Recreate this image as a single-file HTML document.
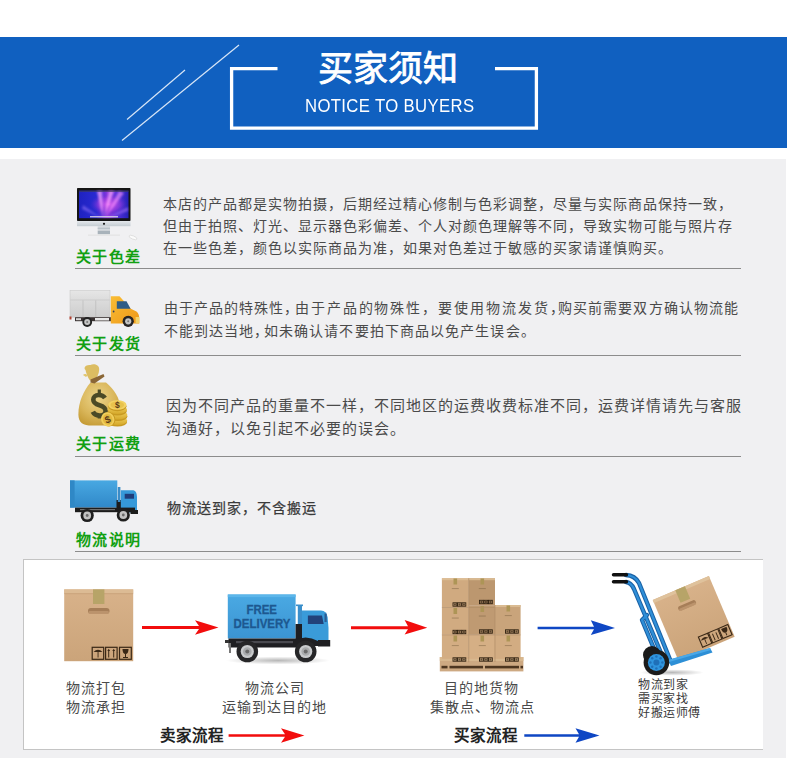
<!DOCTYPE html>
<html lang="zh-CN"><head><meta charset="utf-8">
<style>
*{margin:0;padding:0;box-sizing:border-box}
html,body{width:790px;height:760px;background:#fff;overflow:hidden;font-family:"Liberation Sans",sans-serif}
.a{position:absolute}
#band{left:0;top:37px;width:787px;height:111px;background:#1060c0}
#gray{left:0;top:159px;width:786px;height:599px;background:#f0f0f2}
.t{position:absolute;white-space:nowrap;font-size:14px;letter-spacing:1px;line-height:22px;color:#4a4a4a}
.g{position:absolute;white-space:nowrap;font-size:15px;letter-spacing:1.3px;line-height:20px;color:#12a012;font-weight:bold}
.hr{position:absolute;left:75px;width:666px;height:1px;background:#8c8c8c}
#box{left:23px;top:559px;width:740px;height:191px;background:#fff;border:1px solid #c4c4c4;border-right:none}
.s{position:absolute;white-space:nowrap;font-size:14px;letter-spacing:1px;line-height:20px;color:#4a4a4a}
.sb{position:absolute;white-space:nowrap;font-size:15.5px;line-height:18px;color:#222;font-family:"Liberation Serif",serif;font-weight:bold}
</style></head><body>
<div class="a" id="band"></div>
<svg class="a" style="left:0;top:0" width="790" height="160">
  <line x1="127" y1="119.5" x2="185" y2="70" stroke="#d8e6f7" stroke-width="1.2"/>
  <line x1="122" y1="140.5" x2="239" y2="45" stroke="#d8e6f7" stroke-width="1.2"/>
  <path d="M277.5 68.6 H231.6 V128.2 H536.4 V68.6 H495" fill="none" stroke="#fff" stroke-width="3.3"/>
</svg>
<div class="a" style="left:317.5px;top:47px;font-size:35px;line-height:44px;color:#fff;font-weight:normal;-webkit-text-stroke:0.8px #fff;letter-spacing:0.3px;white-space:nowrap">买家须知</div>
<div class="a" style="left:305px;top:95px;font-size:19px;line-height:22px;color:#fff;white-space:nowrap;letter-spacing:0.4px;transform:scaleX(0.88);transform-origin:0 0">NOTICE TO BUYERS</div>

<div class="a" id="gray"></div>

<!-- row 1 -->
<div class="t" style="left:163px;top:193px">本店的产品都是实物拍摄，后期经过精心修制与色彩调整，尽量与实际商品保持一致，</div>
<div class="t" style="left:163px;top:215px">但由于拍照、灯光、显示器色彩偏差、个人对颜色理解等不同，导致实物可能与照片存</div>
<div class="t" style="left:163px;top:237px">在一些色差，颜色以实际商品为准，如果对色差过于敏感的买家请谨慎购买。</div>
<div class="g" style="left:76px;top:247px">关于色差</div>
<div class="hr" style="top:268px"></div>

<!-- row 2 -->
<div class="t" style="left:163.5px;top:297px">由于产品的特殊性，</div>
<div class="t" style="left:295px;top:297px;letter-spacing:1.9px">由于产品的物殊性，</div>
<div class="t" style="left:437.5px;top:297px;letter-spacing:2px">要使用物流发货，</div>
<div class="t" style="left:558px;top:297px;letter-spacing:1.1px">购买前需要双方确认物流能</div>
<div class="t" style="left:164px;top:320px">不能到达当地，</div>
<div class="t" style="left:264px;top:320px;letter-spacing:1.1px">如未确认请不要拍下商品以免产生误会。</div>
<div class="g" style="left:76px;top:334px">关于发货</div>
<div class="hr" style="top:355px"></div>

<!-- row 3 -->
<div class="t" style="left:166px;top:395px;font-size:15px">因为不同产品的重量不一样，不同地区的运费收费标准不同，运费详情请先与客服</div>
<div class="t" style="left:166px;top:418px;font-size:15px">沟通好，以免引起不必要的误会。</div>
<div class="g" style="left:76px;top:434px">关于运费</div>
<div class="hr" style="top:456px"></div>

<!-- row 4 -->
<div class="t" style="left:167px;top:497px;color:#3a3a3a;-webkit-text-stroke:0.25px #3a3a3a">物流送到家，不含搬运</div>
<div class="g" style="left:76px;top:530px">物流说明</div>
<div class="hr" style="top:551px"></div>

<svg class="a" style="left:0;top:0" width="790" height="760">
<defs>
  <linearGradient id="scrh" x1="0" y1="0" x2="1" y2="0">
    <stop offset="0" stop-color="#1e22c0"/><stop offset="0.35" stop-color="#2a2ad2"/><stop offset="0.58" stop-color="#8a36dc"/><stop offset="0.8" stop-color="#5030d6"/><stop offset="1" stop-color="#2420b8"/>
  </linearGradient>
  <radialGradient id="scr" cx="0.6" cy="0.5" r="0.38">
    <stop offset="0" stop-color="#e060f0" stop-opacity="0.9"/>
    <stop offset="0.6" stop-color="#b040e0" stop-opacity="0.5"/>
    <stop offset="1" stop-color="#6030d0" stop-opacity="0"/>
  </radialGradient>
  <filter id="bl1" x="-20%" y="-20%" width="140%" height="140%"><feGaussianBlur stdDeviation="0.9"/></filter>
  <linearGradient id="chin" x1="0" y1="0" x2="0" y2="1">
    <stop offset="0" stop-color="#e4e8ec"/><stop offset="1" stop-color="#c4ccd2"/>
  </linearGradient>
  <linearGradient id="cont" x1="0" y1="0" x2="0" y2="1">
    <stop offset="0" stop-color="#e6e6e6"/><stop offset="0.35" stop-color="#dcdcdc"/><stop offset="1" stop-color="#cdcdcd"/>
  </linearGradient>
  <linearGradient id="orng" x1="0" y1="0" x2="1" y2="1">
    <stop offset="0" stop-color="#f9bd35"/><stop offset="1" stop-color="#ee9818"/>
  </linearGradient>
  <radialGradient id="gold" cx="0.45" cy="0.35" r="0.7">
    <stop offset="0" stop-color="#ecd48a"/><stop offset="0.6" stop-color="#d9b65a"/><stop offset="1" stop-color="#c49a34"/>
  </radialGradient>
  <linearGradient id="coin" x1="0" y1="0" x2="0" y2="1">
    <stop offset="0" stop-color="#f4d564"/><stop offset="1" stop-color="#d5a82a"/>
  </linearGradient>
  <linearGradient id="blu1" x1="0" y1="0" x2="0" y2="1">
    <stop offset="0" stop-color="#48a8e2"/><stop offset="1" stop-color="#3088c8"/>
  </linearGradient>
</defs>

<!-- iMac -->
<g>
  <rect x="77" y="188" width="53.5" height="33" rx="0.8" fill="#151515"/>
  <rect x="79" y="190.6" width="49.5" height="27.6" fill="url(#scrh)"/>
  <rect x="79" y="190.6" width="49.5" height="27.6" fill="url(#scr)"/>
  <g filter="url(#bl1)">
    <path d="M103 218 L97 191 L102 191 Z" fill="#ffa8ff" opacity="0.7"/>
    <path d="M104 218 L109 191 L114 191 Z" fill="#ffa8ff" opacity="0.7"/>
    <path d="M105 218 L119 191 L124 193 Z" fill="#ff98ff" opacity="0.6"/>
    <path d="M101 218 L82 209 L83 205 Z" fill="#a080ff" opacity="0.5"/>
    <path d="M107 218 L128 207 L128 211 Z" fill="#c080ff" opacity="0.5"/>
  </g>
  <rect x="79" y="190.6" width="49.5" height="1.4" fill="#3a3a48" opacity="0.6"/>
  <rect x="90" y="216" width="28" height="1.4" fill="#d8d0e8" opacity="0.85"/>
  <rect x="77" y="221" width="53.5" height="5.2" fill="url(#chin)"/>
  <circle cx="104" cy="223.8" r="1.1" fill="#1a1a1a"/>
  <rect x="97.7" y="226.2" width="12.3" height="4.2" fill="#d2d8dd"/>
  <rect x="97.7" y="227.8" width="12.3" height="1" fill="#b4bcc4"/>
  <rect x="97.7" y="230.6" width="12.3" height="3.6" fill="#a8b2ba"/>
  <rect x="88" y="234.6" width="32" height="1" fill="#e0e0e0"/>
  <ellipse cx="133" cy="237.5" rx="4.2" ry="1.6" transform="rotate(22 133 237.5)" fill="#fbfbfb" stroke="#d4d4d4" stroke-width="0.6"/>
</g>

<!-- orange truck -->
<g>
  <rect x="70" y="290.4" width="40" height="26.8" fill="url(#cont)" stroke="#c4c4c4" stroke-width="0.5"/>
  <rect x="70.3" y="299.6" width="39.4" height="0.8" fill="#c8c8c8"/>
  <rect x="82.6" y="300.4" width="0.8" height="16.6" fill="#bdbdbd"/>
  <rect x="95.4" y="300.4" width="0.8" height="16.6" fill="#bdbdbd"/>
  <rect x="75" y="317.2" width="37" height="4" fill="#3a3232"/>
  <rect x="95" y="318" width="14" height="2.5" fill="#e8e8e8"/>
  <rect x="76" y="318.2" width="5" height="2" fill="#d8d8d8"/>
  <rect x="69.5" y="316.5" width="2" height="3" fill="#b04030"/>
  <circle cx="87.2" cy="322" r="4.9" fill="#232323"/>
  <circle cx="87.2" cy="322" r="3" fill="#c4c4c4"/><circle cx="87.2" cy="322" r="1" fill="#777"/>
  <path d="M110.8 296.3 H119.5 L130.8 308.8 L136.5 311.5 Q139.2 313.5 139.2 318 V323.6 H110.8 Z" fill="url(#orng)"/>
  <path d="M116.8 301.3 H126.5 L130.6 308.7 H116.8 Z" fill="#2f5d86"/>
  <circle cx="113.6" cy="311.5" r="0.9" fill="#33415a"/>
  <circle cx="128.2" cy="321.3" r="5.6" fill="#2a2020"/>
  <circle cx="128.2" cy="321.3" r="5" fill="#262626"/>
  <circle cx="128.2" cy="321.3" r="3.1" fill="#c4c4c4"/><circle cx="128.2" cy="321.3" r="1" fill="#777"/>
  <rect x="135.6" y="317" width="3.8" height="6.2" fill="#f2d36a"/>
</g>

<!-- money bag -->
<g>
  <path d="M90.5 382.5 C84 390 78.2 402 78.4 414.5 C78.6 423 83 425.6 92 425.6 H110 C118.5 425.6 120.8 421 120.6 410 C120.3 398 113.5 388.5 106 382.5 Z" fill="url(#gold)"/>
  <path d="M85.5 370 C83 367.5 86 364.2 90.5 365 C93.5 363.5 99.5 364.5 99.2 369.5 C99 374 97 377.5 95 380 L90 380.5 C88 378 86 373 85.5 370 Z" fill="#dcbd62"/>
  <path d="M83 375 C84 373.5 86.5 373.5 87.5 375.5 L86 377 Z" fill="#e2c66e"/>
  <path d="M90.5 379.5 L103.5 374 L104.5 376.5 L94.5 383.5 L90.5 382.5 Z" fill="#8a6636"/>
  <g fill="none" stroke="#4b4a26" stroke-width="4.6" stroke-linecap="butt">
    <path d="M105 398 C103.5 395.8 101 395 98.8 395 C95.3 395 93.3 397.3 93.3 399.7 C93.3 403.3 97 404.5 99.5 405.2 C103.2 406.3 105.6 407.8 105.6 411 C105.6 414 102.8 415.6 99.5 415.6 C96.5 415.6 94 414.4 92.8 411.8"/>
    <path d="M99.3 389.4 V395 M99.3 415 V418.6" stroke-width="3.2"/>
  </g>
  <g>
    <ellipse cx="117.5" cy="422" rx="9.6" ry="4.6" fill="#c89a22"/>
    <ellipse cx="117.5" cy="420.5" rx="9.6" ry="4.6" fill="url(#coin)"/>
    <ellipse cx="117.8" cy="416.5" rx="9.6" ry="4.6" fill="#c89a22"/>
    <ellipse cx="117.8" cy="415" rx="9.6" ry="4.6" fill="url(#coin)"/>
    <ellipse cx="117.3" cy="411" rx="9.6" ry="4.6" fill="#c89a22"/>
    <ellipse cx="117.3" cy="409.5" rx="9.6" ry="4.6" fill="url(#coin)"/>
    <ellipse cx="117.3" cy="406.2" rx="9.2" ry="5" fill="#c89a22"/>
    <ellipse cx="117.3" cy="405" rx="9.2" ry="4.8" fill="#f2d264"/>
    <ellipse cx="117.3" cy="405" rx="6.8" ry="3.4" fill="#e8c24c"/>
    <text x="117.3" y="408.2" text-anchor="middle" font-family="Liberation Sans" font-weight="bold" font-size="8.5" fill="#5a3a18">$</text>
  </g>
  <g transform="rotate(-20 108 419)">
    <ellipse cx="108.6" cy="419.5" rx="6.6" ry="7.2" fill="#c89a22"/>
    <ellipse cx="107.6" cy="419.2" rx="6.6" ry="7.2" fill="#f0ce5a"/>
    <ellipse cx="107.6" cy="419.2" rx="4.8" ry="5.4" fill="#e2b840"/>
    <text x="107.6" y="423" text-anchor="middle" font-family="Liberation Sans" font-weight="bold" font-size="10" fill="#5a3a18">$</text>
  </g>
</g>

<!-- small blue truck -->
<g>
  <rect x="70" y="480.4" width="47.3" height="27.2" fill="url(#blu1)"/>
  <rect x="70" y="480.4" width="4.6" height="27.2" fill="#2f88c6"/>
  <rect x="116.5" y="500" width="5" height="9" fill="#1c1c1c"/>
  <rect x="117.8" y="487" width="2.6" height="15" fill="#3a8cc8"/>
  <path d="M120.8 490.3 H133.5 Q136.8 491 137 497 V512.5 H120.8 Z" fill="#3699d9"/>
  <rect x="124.7" y="493.8" width="9.3" height="4.9" fill="#1f3d7a"/>
  <rect x="75" y="507.6" width="60" height="4.6" fill="#1c1c1c"/>
  <rect x="80" y="509" width="35" height="1.2" fill="#707070"/>
  <rect x="130.5" y="510" width="7.5" height="4" fill="#1c1c1c"/>
  <circle cx="87.2" cy="515.5" r="6.6" fill="#1f1f1f"/>
  <circle cx="87.2" cy="515.5" r="3.9" fill="#c2c2c2"/>
  <circle cx="87.2" cy="515.5" r="1.4" fill="#6a6a6a"/>
  <circle cx="123.3" cy="515" r="6.6" fill="#1f1f1f"/>
  <circle cx="123.3" cy="515" r="3.9" fill="#c2c2c2"/>
  <circle cx="123.3" cy="515" r="1.4" fill="#6a6a6a"/>
</g>
</svg>

<div class="a" id="box"></div>
<svg class="a" style="left:0;top:0" width="790" height="760">
<defs>
  <linearGradient id="cb" x1="0" y1="0" x2="0" y2="1">
    <stop offset="0" stop-color="#d8b28a"/><stop offset="1" stop-color="#cba47a"/>
  </linearGradient>
  <linearGradient id="cbd" x1="0" y1="0" x2="0" y2="1">
    <stop offset="0" stop-color="#c19c74"/><stop offset="1" stop-color="#b69068"/>
  </linearGradient>
  <linearGradient id="blu2" x1="0" y1="0" x2="0" y2="1">
    <stop offset="0" stop-color="#4aa9e3"/><stop offset="1" stop-color="#3b94d2"/>
  </linearGradient>
  <radialGradient id="shd" cx="0.5" cy="0.5" r="0.5">
    <stop offset="0" stop-color="#000" stop-opacity="0.28"/><stop offset="1" stop-color="#000" stop-opacity="0"/>
  </radialGradient>
  <g id="sym">
    <rect x="0" y="0" width="11" height="12" fill="none" stroke="#3a2a18" stroke-width="1.2"/>
  </g>
</defs>

<!-- cardboard box -->
<g>
  <rect x="64.2" y="589.4" width="69" height="71.8" fill="url(#cb)"/>
  <rect x="64.2" y="589.4" width="69" height="4" fill="#dcbb94"/>
  <rect x="64.2" y="593.4" width="69" height="0.7" fill="#b89068" opacity="0.6"/>
  <rect x="93" y="589.4" width="11.4" height="14.6" fill="#b7a468"/>
  <rect x="88" y="608" width="21.5" height="5.8" rx="2.9" fill="#a67e58"/>
  <rect x="88.5" y="611" width="20.5" height="2.8" rx="1.4" fill="#c9a27a" opacity="0.6"/>
  <g fill="none" stroke="#3a2816" stroke-width="1.2">
    <rect x="92.2" y="647.3" width="11.5" height="12"/>
    <rect x="105.6" y="647.3" width="11.5" height="12"/>
    <rect x="119.5" y="647.3" width="11.8" height="12"/>
  </g>
  <g fill="#3a2816">
    <path d="M93.5 652 Q98 647.5 102.5 652 Z"/>
    <rect x="97.6" y="652" width="0.9" height="5.5"/>
    <rect x="108.2" y="650" width="1" height="7.5"/><path d="M107.3 651 L108.7 648.8 L110.1 651 Z"/>
    <rect x="113.2" y="650" width="1" height="7.5"/><path d="M112.3 651 L113.7 648.8 L115.1 651 Z"/>
    <path d="M122.5 649 H128.5 Q128.5 654 125.5 654 Q122.5 654 122.5 649 Z"/>
    <rect x="125" y="654" width="1" height="3.5"/><rect x="123" y="657" width="5" height="1"/>
  </g>
</g>

<!-- FREE DELIVERY truck -->
<g>
  <ellipse cx="278" cy="660.5" rx="52" ry="4" fill="url(#shd)"/>
  <rect x="227.8" y="594.5" width="67.8" height="44" fill="url(#blu2)"/>
  <rect x="227.8" y="594.5" width="67.8" height="2.6" fill="#5cb6ea"/>
  <text x="261.7" y="613.8" text-anchor="middle" font-family="Liberation Sans" font-weight="bold" font-size="12.3" fill="#1d5890" stroke="#1d5890" stroke-width="0.3" textLength="30.5" lengthAdjust="spacingAndGlyphs">FREE</text>
  <text x="262" y="627.7" text-anchor="middle" font-family="Liberation Sans" font-weight="bold" font-size="13.5" fill="#1d5890" stroke="#1d5890" stroke-width="0.3" textLength="57" lengthAdjust="spacingAndGlyphs">DELIVERY</text>
  <rect x="297.8" y="605.3" width="4.2" height="20.2" fill="#3b8fcb"/>
  <rect x="296" y="604.5" width="7" height="1.6" fill="#3b8fcb"/>
  <rect x="295.6" y="624" width="7" height="16" fill="#1e1e22"/>
  <path d="M302 610.4 H321 Q326.5 610.8 327.6 617 L328.5 628 V644.5 H302 Z" fill="#3a9bd9"/>
  <path d="M307.9 615.4 H322 L323.7 624 H307.9 Z" fill="#22427a"/>
  <rect x="324.5" y="613.5" width="2.2" height="8.5" fill="#2b5c94"/>
  <rect x="228.5" y="638.5" width="70" height="9" fill="#1f1f22"/>
  <rect x="236" y="641" width="60" height="2.2" fill="#4a4a50"/>
  <rect x="225" y="640" width="4" height="3" fill="#333"/>
  <rect x="229" y="643" width="2" height="10" fill="#777"/>
  <path d="M293 641 Q305.7 634 318 641 V646 H293 Z" fill="#1f1f22"/>
  <rect x="318" y="640" width="12.2" height="6.5" fill="#1f1f22"/>
  <circle cx="247.3" cy="651.5" r="10.8" fill="#262628"/>
  <circle cx="247.3" cy="651.5" r="6.6" fill="#c9cbcd"/>
  <circle cx="247.3" cy="651.5" r="4.3" fill="#a9abad"/>
  <circle cx="247.3" cy="651.5" r="2" fill="#6a6a6a"/>
  <circle cx="305.7" cy="651.5" r="10.8" fill="#262628"/>
  <circle cx="305.7" cy="651.5" r="6.6" fill="#c9cbcd"/>
  <circle cx="305.7" cy="651.5" r="4.3" fill="#a9abad"/>
  <circle cx="305.7" cy="651.5" r="2" fill="#6a6a6a"/>
</g>

<!-- pallet -->
<g>
  <rect x="439.8" y="657" width="83.6" height="14.4" fill="#cda982"/>
  <rect x="439.8" y="657" width="83.6" height="4" fill="#d8b88f"/>
  <g fill="#4d3620">
    <rect x="441.5" y="665.8" width="6" height="2.6"/>
    <rect x="449.5" y="665.8" width="33.5" height="2.6"/>
    <rect x="485" y="665.8" width="34" height="2.6"/>
    <rect x="520.5" y="665.8" width="2.5" height="2.6"/>
  </g>
  <!-- boxes: x,y,w,h,fill -->
  <rect x="441.9" y="634.8" width="26.9" height="24" fill="#d3ad83"/>
  <rect x="468.8" y="634.8" width="26.2" height="24" fill="#d5af85"/>
  <rect x="495" y="634.8" width="25.6" height="24" fill="#d2ac82"/>
  <rect x="441.9" y="607.5" width="26.9" height="27.3" fill="#d1ab81"/>
  <rect x="468.8" y="605.8" width="26.2" height="29" fill="#bf9a72"/>
  <rect x="495" y="605" width="25.6" height="29.8" fill="#c9a47b"/>
  <rect x="441.9" y="578.2" width="26.9" height="29.3" fill="#d0aa80"/>
  <rect x="468.8" y="578.2" width="26.2" height="27.6" fill="#bc976f"/>
  <g fill="#dfc198" opacity="0.8">
    <rect x="441.9" y="578.2" width="26.9" height="2"/>
    <rect x="468.8" y="578.2" width="26.2" height="2"/>
    <rect x="495" y="605" width="25.6" height="2"/>
  </g>
  <g fill="#ad9556">
    <rect x="453.5" y="578.5" width="3.6" height="6"/>
    <rect x="480.5" y="578.5" width="3.6" height="6"/>
    <rect x="453.5" y="608.0" width="3.6" height="6"/>
    <rect x="480.5" y="606.0" width="3.6" height="6"/>
    <rect x="506.5" y="605.5" width="3.6" height="6"/>
    <rect x="453.5" y="635.5" width="3.6" height="6"/>
    <rect x="480.5" y="635.5" width="3.6" height="6"/>
    <rect x="506.5" y="635.5" width="3.6" height="6"/>
  </g>
  <g fill="#7a6040" opacity="0.45">
    <rect x="451.8" y="588.0" width="7" height="1.1"/>
    <rect x="478.8" y="588.0" width="7" height="1.1"/>
    <rect x="451.8" y="617.5" width="7" height="1.1"/>
    <rect x="478.8" y="615.5" width="7" height="1.1"/>
    <rect x="504.8" y="615.0" width="7" height="1.1"/>
    <rect x="451.8" y="645.0" width="7" height="1.1"/>
    <rect x="478.8" y="645.0" width="7" height="1.1"/>
    <rect x="504.8" y="645.0" width="7" height="1.1"/>
  </g>
  <g fill="#b08c66" opacity="0.8">
    <rect x="468.3" y="578.2" width="0.9" height="84"/>
    <rect x="494.5" y="605" width="0.9" height="57"/>
    <rect x="441.9" y="607.2" width="53" height="0.8"/>
    <rect x="441.9" y="634.5" width="78.7" height="0.8"/>
  </g>
  <g fill="none" stroke="#2e2010" stroke-width="0.9">
    <rect x="453.0" y="602.8" width="3.8" height="3.4"/>
    <rect x="457.5" y="602.8" width="3.8" height="3.4"/>
    <rect x="462.0" y="602.8" width="3.8" height="3.4"/>
    <rect x="479.5" y="600.3" width="3.8" height="3.4"/>
    <rect x="484.0" y="600.3" width="3.8" height="3.4"/>
    <rect x="488.5" y="600.3" width="3.8" height="3.4"/>
    <rect x="453.0" y="630.3" width="3.8" height="3.4"/>
    <rect x="457.5" y="630.3" width="3.8" height="3.4"/>
    <rect x="462.0" y="630.3" width="3.8" height="3.4"/>
    <rect x="479.5" y="629.8" width="3.8" height="3.4"/>
    <rect x="484.0" y="629.8" width="3.8" height="3.4"/>
    <rect x="488.5" y="629.8" width="3.8" height="3.4"/>
    <rect x="505.5" y="629.8" width="3.8" height="3.4"/>
    <rect x="510.0" y="629.8" width="3.8" height="3.4"/>
    <rect x="514.5" y="629.8" width="3.8" height="3.4"/>
    <rect x="453.0" y="657.8" width="3.8" height="3.4"/>
    <rect x="457.5" y="657.8" width="3.8" height="3.4"/>
    <rect x="462.0" y="657.8" width="3.8" height="3.4"/>
    <rect x="479.5" y="657.8" width="3.8" height="3.4"/>
    <rect x="484.0" y="657.8" width="3.8" height="3.4"/>
    <rect x="488.5" y="657.8" width="3.8" height="3.4"/>
    <rect x="505.5" y="657.8" width="3.8" height="3.4"/>
    <rect x="510.0" y="657.8" width="3.8" height="3.4"/>
    <rect x="514.5" y="657.8" width="3.8" height="3.4"/>
  </g>
  <g fill="#2e2010" opacity="0.7">
    <rect x="453.9" y="603.5" width="2" height="2"/>
    <rect x="458.4" y="603.5" width="2" height="2"/>
    <rect x="462.9" y="603.5" width="2" height="2"/>
    <rect x="480.4" y="601.0" width="2" height="2"/>
    <rect x="484.9" y="601.0" width="2" height="2"/>
    <rect x="489.4" y="601.0" width="2" height="2"/>
    <rect x="453.9" y="631.0" width="2" height="2"/>
    <rect x="458.4" y="631.0" width="2" height="2"/>
    <rect x="462.9" y="631.0" width="2" height="2"/>
    <rect x="480.4" y="630.5" width="2" height="2"/>
    <rect x="484.9" y="630.5" width="2" height="2"/>
    <rect x="489.4" y="630.5" width="2" height="2"/>
    <rect x="506.4" y="630.5" width="2" height="2"/>
    <rect x="510.9" y="630.5" width="2" height="2"/>
    <rect x="515.4" y="630.5" width="2" height="2"/>
    <rect x="453.9" y="658.5" width="2" height="2"/>
    <rect x="458.4" y="658.5" width="2" height="2"/>
    <rect x="462.9" y="658.5" width="2" height="2"/>
    <rect x="480.4" y="658.5" width="2" height="2"/>
    <rect x="484.9" y="658.5" width="2" height="2"/>
    <rect x="489.4" y="658.5" width="2" height="2"/>
    <rect x="506.4" y="658.5" width="2" height="2"/>
    <rect x="510.9" y="658.5" width="2" height="2"/>
    <rect x="515.4" y="658.5" width="2" height="2"/>
  </g>
</g>

<!-- hand truck -->
<g>
  <ellipse cx="672" cy="672.5" rx="32" ry="3.2" fill="url(#shd)"/>
  <g stroke="#1a62a6" stroke-width="4.4" fill="none" stroke-linecap="round" stroke-linejoin="round">
    <path d="M626 575 Q635 575.5 639 583 L671 662"/>
    <path d="M626 582 Q631 582.5 634 589 L664 660"/>
    <path d="M647 615 L642 620 L657 656"/>
  </g>
  <g stroke="#2f8fd8" stroke-width="2.2" fill="none" stroke-linecap="round" stroke-linejoin="round">
    <path d="M626 575 Q635 575.5 639 583 L671 662"/>
    <path d="M626 582 Q631 582.5 634 589 L664 660"/>
    <path d="M647 615 L642 620 L657 656"/>
  </g>
  <g stroke="#111" stroke-width="3.4" stroke-linecap="round">
    <line x1="613.5" y1="574.8" x2="626.5" y2="574.8"/>
    <line x1="613.5" y1="581.8" x2="626.5" y2="581.8"/>
  </g>
  <g transform="translate(693.7 618.4) rotate(-23)">
    <rect x="-30.5" y="-33" width="61" height="66" fill="url(#cb)"/>
    <rect x="-30.5" y="-33" width="61" height="3.2" fill="#dfc29c"/>
    <rect x="-6" y="-33" width="10.5" height="13.5" fill="#b7a468"/>
    <rect x="-10.5" y="-17" width="19" height="5" rx="2.5" fill="#a67e58"/>
    <rect x="-10" y="-14.5" width="18" height="2.5" rx="1.2" fill="#c9a27a" opacity="0.6"/>
    <g fill="none" stroke="#3a2816" stroke-width="1.1">
      <rect x="-3" y="19" width="10" height="11"/>
      <rect x="8" y="19" width="10" height="11"/>
      <rect x="19" y="19" width="10" height="11"/>
    </g>
    <g fill="#3a2816">
      <path d="M-2 23.5 Q2 19.5 6 23.5 Z"/><rect x="1.6" y="23.5" width="0.8" height="5"/>
      <rect x="10.8" y="21.5" width="0.9" height="7"/><rect x="14.5" y="21.5" width="0.9" height="7"/>
      <path d="M21 20.5 H27 Q27 25.5 24 25.5 Q21 25.5 21 20.5 Z"/><rect x="23.5" y="25.5" width="0.9" height="3"/>
    </g>
  </g>
  <path d="M668 660 L710 648 L712.5 652.5 L671 666 Z" fill="#2d8fd6"/><path d="M668 660 L710 648 L711 650 L669 662 Z" fill="#4aa8e8"/>
  <circle cx="652" cy="655" r="9" fill="#1b1b1b"/>
  <circle cx="656.4" cy="662.5" r="12.8" fill="#1b1b1b"/>
  <circle cx="656.4" cy="662.5" r="8.5" fill="#2f95de"/>
  <circle cx="656.4" cy="662.5" r="3" fill="#1f70b8"/>
  <g fill="#1f70b8">
    <circle cx="656.4" cy="656.5" r="1.2"/><circle cx="656.4" cy="668.5" r="1.2"/>
    <circle cx="650.4" cy="662.5" r="1.2"/><circle cx="662.4" cy="662.5" r="1.2"/>
    <circle cx="652.2" cy="658.3" r="1.2"/><circle cx="660.6" cy="666.7" r="1.2"/>
    <circle cx="652.2" cy="666.7" r="1.2"/><circle cx="660.6" cy="658.3" r="1.2"/>
  </g>
</g>
</svg>

<div class="s" style="left:66px;top:678px">物流打包</div>
<div class="s" style="left:66px;top:697px">物流承担</div>
<div class="s" style="left:245px;top:678px">物流公司</div>
<div class="s" style="left:222px;top:697px">运输到达目的地</div>
<div class="s" style="left:444px;top:678px">目的地货物</div>
<div class="s" style="left:430px;top:697px">集散点、物流点</div>
<div class="s" style="left:638px;top:678px;font-size:12px;letter-spacing:0.5px;line-height:14px;color:#3a3a3a">物流到家</div>
<div class="s" style="left:638px;top:692px;font-size:12px;letter-spacing:0.5px;line-height:14px;color:#3a3a3a">需买家找</div>
<div class="s" style="left:638px;top:706px;font-size:12px;letter-spacing:0.5px;line-height:14px;color:#3a3a3a">好搬运师傅</div>
<div class="sb" style="left:160px;top:727px">卖家流程</div>
<div class="sb" style="left:454px;top:727px">买家流程</div>

<svg class="a" style="left:0;top:0" width="790" height="760">
  <!-- red arrows -->
  <g fill="#f20d0d">
    <path d="M142 626 H199 L195 620.3 L218.5 627.5 L195 634.8 L199 629 H142 Z"/>
    <path d="M351 626.2 H408 L404.6 620 L427.3 627.7 L404.6 634.6 L408 629.2 H351 Z"/>
    <path d="M228.6 734.3 H285 L281 728.2 L304.4 735.5 L281 742.8 L285 736.7 H228.6 Z"/>
  </g>
  <g fill="#0f47c4">
    <path d="M537.6 626.7 H594 L590.8 620.3 L615 628 L590.8 635 L594 629.3 H537.6 Z"/>
    <path d="M524.3 734.3 H579 L575.5 728.2 L599.5 735.5 L575.5 742.8 L579 736.7 H524.3 Z"/>
  </g>
</svg>
</body></html>
